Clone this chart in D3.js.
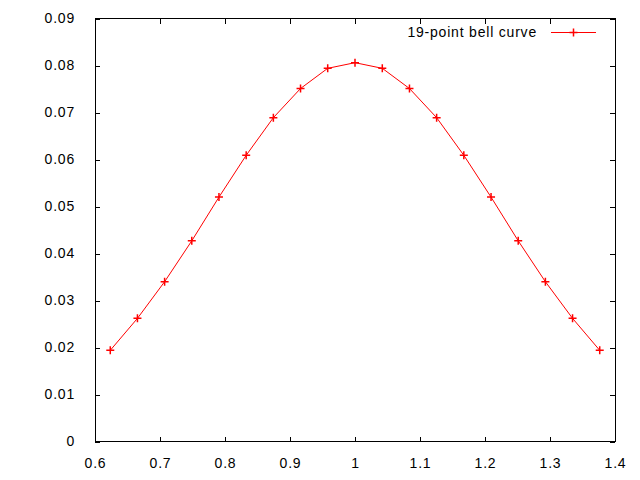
<!DOCTYPE html>
<html>
<head>
<meta charset="utf-8">
<script src="https://cdn.jsdelivr.net/npm/d3@7"></script>
<style>
  html, body { margin: 0; padding: 0; background: #fff; }
  text { font-family: "Liberation Sans", Arial, sans-serif; font-size: 14px; letter-spacing: 0.8px; fill: #000; }
</style>
</head>
<body>
<svg id="chart" width="640" height="480"></svg>
<script>
// Data
const xValues = [0.6235, 0.6653, 0.7071, 0.7489, 0.7907, 0.8326, 0.8744, 0.9162, 0.9580, 1.0000,
                 1.0420, 1.0838, 1.1256, 1.1674, 1.2093, 1.2511, 1.2929, 1.3347, 1.3765];
const yValues = [0.0194, 0.0262, 0.0340, 0.0427, 0.0520, 0.0609, 0.0689, 0.0751, 0.0794, 0.0806,
                 0.0794, 0.0751, 0.0689, 0.0609, 0.0520, 0.0427, 0.0340, 0.0262, 0.0194];
const xTicks = [0.6, 0.7, 0.8, 0.9, 1, 1.1, 1.2, 1.3, 1.4];
const yTicks = [0, 0.01, 0.02, 0.03, 0.04, 0.05, 0.06, 0.07, 0.08, 0.09];
const seriesName = "19-point bell curve";

(function () {
const svg = d3.select("#chart");
const mL = 95, mR = 615, mT = 18.5, mB = 441.5;

const x = d3.scaleLinear().domain([0.6, 1.4]).range([mL, mR]);
const y = d3.scaleLinear().domain([0, 0.09]).range([mB, mT]);
const tickLen = 5;

const fmtX = d => String(+d.toFixed(1));
const fmtY = d => d === 0 ? "0" : d.toFixed(2);

// Axes (ticks pointing inward, mirrored)
const gB = svg.append("g").attr("transform", `translate(0,${mB})`)
  .call(d3.axisBottom(x).tickValues(xTicks).tickFormat(fmtX).tickSizeInner(-tickLen).tickSizeOuter(0).tickPadding(14));
const gT = svg.append("g").attr("transform", `translate(0,${mT})`)
  .call(d3.axisTop(x).tickValues(xTicks).tickFormat("").tickSizeInner(-tickLen).tickSizeOuter(0));
const gL = svg.append("g").attr("transform", `translate(${mL},0)`)
  .call(d3.axisLeft(y).tickValues(yTicks).tickFormat(fmtY).tickSizeInner(-tickLen).tickSizeOuter(0).tickPadding(20));
const gR = svg.append("g").attr("transform", `translate(${mR},0)`)
  .call(d3.axisRight(y).tickValues(yTicks).tickFormat("").tickSizeInner(-tickLen).tickSizeOuter(0));

[gB, gT, gL, gR].forEach(g => {
  g.select(".domain").remove();
  g.selectAll("line").attr("stroke", "#000").attr("shape-rendering", "crispEdges");
  g.selectAll("text").attr("font-family", null).attr("font-size", null);
});
gB.selectAll("text").attr("dy", "0.9em");

// Border
svg.append("rect")
  .attr("x", mL).attr("y", mT).attr("width", mR - mL).attr("height", mB - mT)
  .attr("fill", "none").attr("stroke", "#000").attr("stroke-width", 1)
  .attr("shape-rendering", "crispEdges");

// Series
const pts = xValues.map((v, i) => [v, yValues[i]]);
svg.append("path")
  .datum(pts)
  .attr("fill", "none").attr("stroke", "#ff0000").attr("stroke-width", 1)
  .attr("d", d3.line().x(d => x(d[0])).y(d => y(d[1])));

const plus = (g, cx, cy, r) => {
  g.append("path")
    .attr("d", `M${cx - r},${cy}H${cx + r}M${cx},${cy - r}V${cy + r}`)
    .attr("stroke", "#ff0000").attr("stroke-width", 1.5).attr("fill", "none");
};
const gm = svg.append("g");
pts.forEach(d => plus(gm, x(d[0]), y(d[1]), 4));

// Legend
const legY = 32.5;
svg.append("text").attr("x", 537).attr("y", legY).attr("dy", "0.35em")
  .attr("text-anchor", "end").text(seriesName);
svg.append("line").attr("x1", 551).attr("x2", 596).attr("y1", legY).attr("y2", legY)
  .attr("stroke", "#ff0000").attr("stroke-width", 1);
plus(svg, 573.5, legY, 4);
})();
</script>
</body>
</html>
